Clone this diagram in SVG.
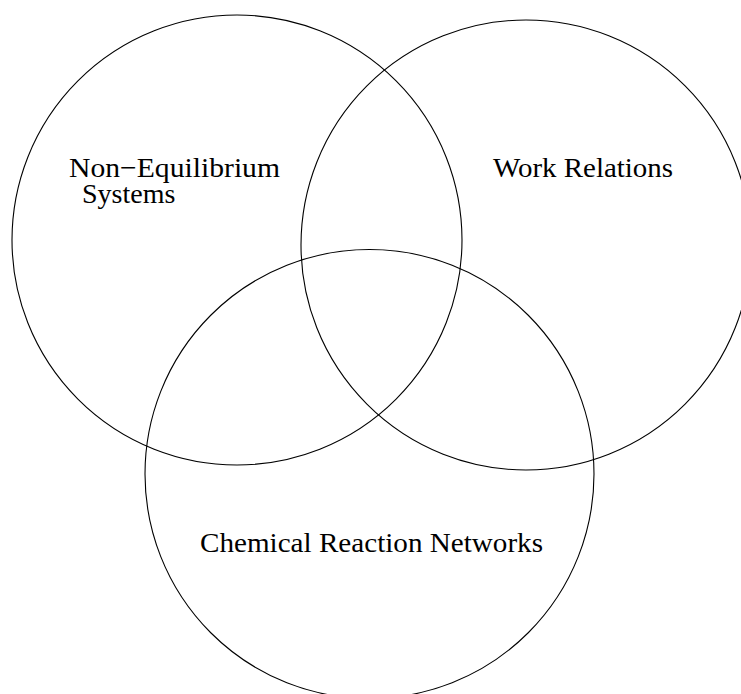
<svg xmlns="http://www.w3.org/2000/svg" width="741" height="694" viewBox="0 0 741 694">
<style>
.c{fill:none;stroke:#000;stroke-width:1.1}
.t{font-family:"Liberation Serif","Times New Roman",serif;font-size:28px;fill:#000}
</style>
<rect width="741" height="694" fill="#fff"/>
<g id="noneq">
<circle class="c" cx="237" cy="240" r="225"/>
<text class="t" x="69" y="177" textLength="211" lengthAdjust="spacingAndGlyphs">Non−Equilibrium</text>
<text class="t" x="82" y="203">Systems</text>
</g>
<g id="work">
<circle class="c" cx="526" cy="245" r="225"/>
<text class="t" x="493" y="177" textLength="180" lengthAdjust="spacingAndGlyphs">Work Relations</text>
</g>
<g id="crn">
<circle class="c" cx="369.5" cy="474" r="224.5"/>
<text class="t" x="200" y="552" textLength="343" lengthAdjust="spacingAndGlyphs">Chemical Reaction Networks</text>
</g>
<g id="connectors"></g>
</svg>
